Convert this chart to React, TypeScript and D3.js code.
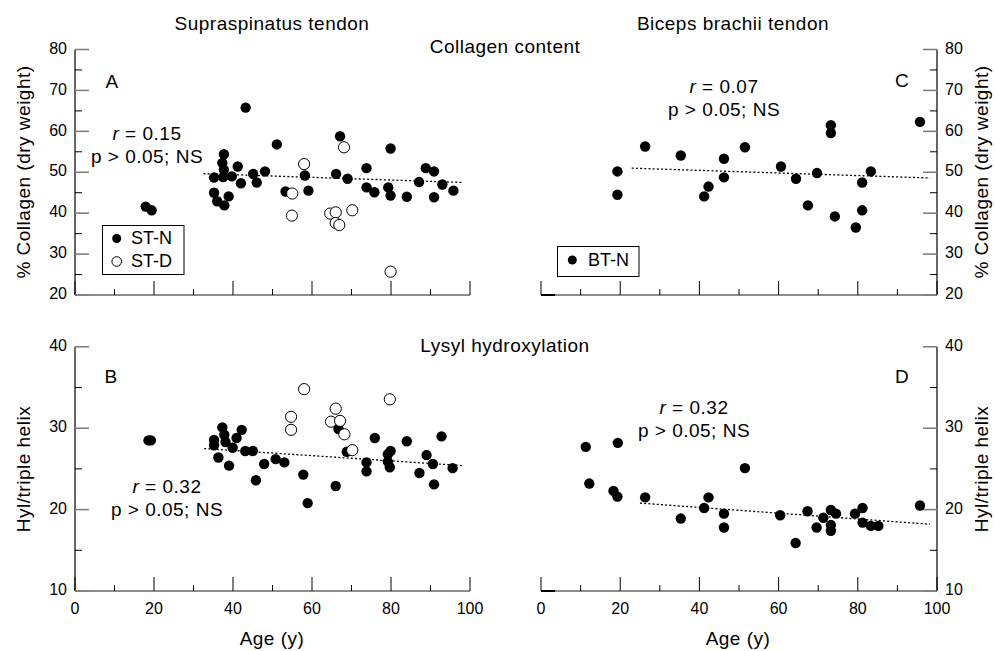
import React from "react";
import * as d3 from "d3";

type Pt = [number, number];

// ages (y) vs % collagen (dry weight)
const stNormalCollagen: Pt[] = [
  [17.9, 41.6], [19.4, 40.7], [43.2, 65.8], [37.7, 54.4], [37.3, 52.3], [41.2, 51.4], [37.7, 50.6],
  [35.2, 48.7], [37.5, 48.8], [39.7, 49.0], [42.0, 47.3], [45.1, 49.6], [46.0, 47.5], [35.2, 45.0],
  [36.0, 42.9], [38.9, 44.1], [37.8, 41.9], [48.1, 50.2], [51.1, 56.8], [53.3, 45.3], [58.2, 49.2],
  [59.1, 45.5], [67.1, 58.8], [66.1, 49.6], [69.0, 48.4], [73.8, 51.0], [73.8, 46.3], [75.8, 45.1],
  [79.9, 55.8], [79.3, 46.3], [79.9, 44.3], [84.0, 44.0], [87.1, 47.6], [88.8, 51.0], [90.9, 50.2],
  [90.9, 43.9], [93.0, 47.0], [95.8, 45.5],
];
const stDegenCollagen: Pt[] = [
  [58.0, 52.0], [55.0, 44.8], [54.9, 39.4], [68.1, 56.1], [64.6, 39.9], [66.0, 40.2], [66.0, 37.6],
  [66.9, 37.1], [70.2, 40.7], [79.9, 25.7],
];
const btNormalCollagen: Pt[] = [
  [19.3, 50.2], [19.3, 44.5], [26.3, 56.3], [35.3, 54.1], [46.2, 53.3], [46.2, 48.75], [42.3, 46.5],
  [41.2, 44.1], [51.5, 56.1], [60.6, 51.4], [64.4, 48.4], [67.4, 41.9], [69.7, 49.8], [73.2, 61.5],
  [73.2, 59.6], [74.2, 39.2], [79.5, 36.5], [81.1, 47.5], [81.1, 40.7], [83.3, 50.2], [95.7, 62.3],
];

// ages (y) vs Hyl per triple helix
const stNormalHyl: Pt[] = [
  [18.6, 28.5], [19.2, 28.5], [37.3, 30.1], [35.2, 28.55], [35.2, 27.9], [37.8, 29.2], [38.1, 28.3],
  [39.9, 27.6], [40.9, 28.8], [42.2, 29.8], [43.1, 27.2], [45.0, 27.2], [36.3, 26.4], [39.0, 25.4],
  [45.8, 23.6], [47.9, 25.6], [50.8, 26.2], [53.0, 25.8], [57.8, 24.3], [58.9, 20.8], [66.0, 22.9],
  [66.7, 29.9], [68.8, 27.1], [73.8, 25.8], [73.8, 24.7], [75.9, 28.8], [79.2, 26.8], [79.9, 27.2],
  [79.2, 25.9], [79.7, 25.2], [84.0, 28.4], [87.2, 24.5], [89.0, 26.7], [90.6, 25.6], [90.9, 23.1],
  [92.8, 29.0], [95.6, 25.1],
];
const stDegenHyl: Pt[] = [
  [58.0, 34.8], [54.7, 31.4], [54.7, 29.8], [66.0, 32.4], [64.8, 30.8], [67.1, 30.9], [68.2, 29.25],
  [70.2, 27.3], [79.7, 33.55],
];
const btNormalHyl: Pt[] = [
  [11.3, 27.7], [19.4, 28.2], [12.2, 23.2], [18.3, 22.3], [19.3, 21.6], [26.3, 21.5], [35.3, 18.9],
  [41.2, 20.2], [42.3, 21.5], [46.2, 19.5], [46.2, 17.8], [51.5, 25.1], [60.4, 19.3], [64.3, 15.9],
  [67.3, 19.8], [69.6, 17.8], [71.3, 19.0], [73.2, 19.95], [73.2, 18.1], [73.2, 17.4], [74.5, 19.5],
  [79.3, 19.5], [81.2, 20.2], [81.2, 18.4], [83.3, 18.0], [85.2, 18.0], [95.7, 20.5],
];

// regression lines (start, end)
const trendA: Pt[] = [[32.5, 49.65], [98.3, 47.5]];
const trendB: Pt[] = [[32.7, 27.5], [98.3, 25.4]];
const trendC: Pt[] = [[22.9, 51.0], [98.2, 48.6]];
const trendD: Pt[] = [[25.0, 20.8], [98.2, 18.2]];

const ageTicks = [0, 20, 40, 60, 80, 100];
const collagenTicks = [20, 30, 40, 50, 60, 70, 80];
const hylTicks = [10, 20, 30, 40];

const FONT = "'Liberation Sans', Arial, Helvetica, sans-serif";
const TXT = { fontFamily: FONT, fontSize: 19, letterSpacing: 0.5 } as const;

type PanelProps = {
  x: d3.ScaleLinear<number, number>;
  y: d3.ScaleLinear<number, number>;
  side: "left" | "right";
  yTicks: number[];
  minorStep: number;
  showXLabels: boolean;
  filled: Pt[];
  open?: Pt[];
  trend: Pt[];
};

function Panel({ x, y, side, yTicks, minorStep, showXLabels, filled, open, trend }: PanelProps) {
  const [x0, x1] = x.range();
  const [yb, yt] = y.range();
  const axisX = side === "left" ? x0 : x1;
  const dir = side === "left" ? 1 : -1;
  const [d0, d1] = y.domain();
  const yMinor = d3.range(d0 + minorStep / 2, d1, minorStep);
  const xMinor = d3.range(10, 100, 20);
  const line = d3.line<Pt>().x(d => x(d[0])).y(d => y(d[1]));
  return (
    <g>
      {/* x axis */}
      <line x1={x0} x2={x1} y1={yb} y2={yb} stroke="#666" strokeWidth={1.4} />
      {ageTicks.map(t => (
        <line key={"xt" + t} x1={x(t)} x2={x(t)} y1={yb} y2={yb - 14} stroke="#000" strokeWidth={1} />
      ))}
      {xMinor.map(t => (
        <line key={"xm" + t} x1={x(t)} x2={x(t)} y1={yb} y2={yb - 6} stroke="#000" strokeWidth={1} />
      ))}
      {side === "right" && (
        <line x1={x0} x2={x0 + 14} y1={yb} y2={yb} stroke="#000" strokeWidth={2} />
      )}
      {showXLabels &&
        ageTicks.map(t => (
          <text key={"xl" + t} x={x(t)} y={yb + 19} textAnchor="middle" dominantBaseline="middle"
            fontFamily={FONT} fontSize={16}>{t}</text>
        ))}
      {/* y axis */}
      <line x1={axisX} x2={axisX} y1={yb} y2={yt} stroke="#000" strokeWidth={1.2} />
      {yTicks.map(t => (
        <line key={"yt" + t} x1={axisX} x2={axisX + dir * 14} y1={y(t)} y2={y(t)} stroke="#808080" strokeWidth={1.6} />
      ))}
      {yMinor.map(t => (
        <line key={"ym" + t} x1={axisX} x2={axisX + dir * 7} y1={y(t)} y2={y(t)} stroke="#000" strokeWidth={1} />
      ))}
      {yTicks.map(t => (
        <text key={"yl" + t} x={axisX - dir * 8} y={y(t)} textAnchor={side === "left" ? "end" : "start"}
          dominantBaseline="middle" fontFamily={FONT} fontSize={16}>{t}</text>
      ))}
      {/* trend */}
      <path d={line(trend) || ""} fill="none" stroke="#000" strokeWidth={1.3} strokeDasharray="2,2.2" />
      {filled.map((d, i) => (
        <circle key={"f" + i} cx={x(d[0])} cy={y(d[1])} r={5.2} fill="#000" />
      ))}
      {(open || []).map((d, i) => (
        <circle key={"o" + i} cx={x(d[0])} cy={y(d[1])} r={5.6} fill="#fff" stroke="#000" strokeWidth={1} />
      ))}
    </g>
  );
}

export default function App() {
  const xLeft = d3.scaleLinear().domain([0, 100]).range([75, 470]);
  const xRight = d3.scaleLinear().domain([0, 100]).range([541, 937]);
  const yTop = d3.scaleLinear().domain([20, 80]).range([295, 49.5]);
  const yBottom = d3.scaleLinear().domain([10, 40]).range([591, 346.8]);

  const annot = (cx: number, cy: number, r: string) => (
    <g {...TXT}>
      <text x={cx} y={cy} textAnchor="middle" dominantBaseline="middle">
        <tspan fontStyle="italic">r</tspan> = {r}
      </text>
      <text x={cx} y={cy + 23} textAnchor="middle" dominantBaseline="middle">p &gt; 0.05; NS</text>
    </g>
  );

  return (
    <svg width={995} height={651} style={{ position: "absolute", left: 0, top: 0, background: "#fff" }}>
      <rect width={995} height={651} fill="#fff" />
      <g {...TXT} textAnchor="middle" dominantBaseline="middle">
        <text x={272} y={25}>Supraspinatus tendon</text>
        <text x={733} y={25}>Biceps brachii tendon</text>
        <text x={505} y={48}>Collagen content</text>
        <text x={505} y={347}>Lysyl hydroxylation</text>
        <text x={272} y={640}>Age (y)</text>
        <text x={738} y={640}>Age (y)</text>
        <text transform="translate(25,172) rotate(-90)">% Collagen (dry weight)</text>
        <text transform="translate(25,469) rotate(-90)">Hyl/triple helix</text>
        <text transform="translate(983,172) rotate(-90)">% Collagen (dry weight)</text>
        <text transform="translate(983,469) rotate(-90)">Hyl/triple helix</text>
        <text x={112} y={83}>A</text>
        <text x={111} y={378}>B</text>
        <text x={902} y={82}>C</text>
        <text x={902} y={378}>D</text>
      </g>

      <Panel x={xLeft} y={yTop} side="left" yTicks={collagenTicks} minorStep={10} showXLabels={false}
        filled={stNormalCollagen} open={stDegenCollagen} trend={trendA} />
      <Panel x={xLeft} y={yBottom} side="left" yTicks={hylTicks} minorStep={10} showXLabels={true}
        filled={stNormalHyl} open={stDegenHyl} trend={trendB} />
      <Panel x={xRight} y={yTop} side="right" yTicks={collagenTicks} minorStep={10} showXLabels={false}
        filled={btNormalCollagen} trend={trendC} />
      <Panel x={xRight} y={yBottom} side="right" yTicks={hylTicks} minorStep={10} showXLabels={true}
        filled={btNormalHyl} trend={trendD} />

      {annot(147, 135, "0.15")}
      {annot(167, 488, "0.32")}
      {annot(724, 88, "0.07")}
      {annot(694, 409, "0.32")}

      {/* legends */}
      <g fontFamily={FONT} fontSize={18}>
        <rect x={102.5} y={225.5} width={81.5} height={49} fill="#fff" stroke="#000" strokeWidth={1} />
        <circle cx={116.7} cy={238.5} r={4.5} fill="#000" />
        <text x={131} y={239} dominantBaseline="middle">ST-N</text>
        <circle cx={116.7} cy={261.5} r={4.8} fill="#fff" stroke="#000" strokeWidth={1} />
        <text x={131} y={262} dominantBaseline="middle">ST-D</text>

        <rect x={557.5} y={246.5} width={81.5} height={30} fill="#fff" stroke="#000" strokeWidth={1} />
        <circle cx={572.3} cy={260} r={4.5} fill="#000" />
        <text x={588} y={261} dominantBaseline="middle">BT-N</text>
      </g>
    </svg>
  );
}
